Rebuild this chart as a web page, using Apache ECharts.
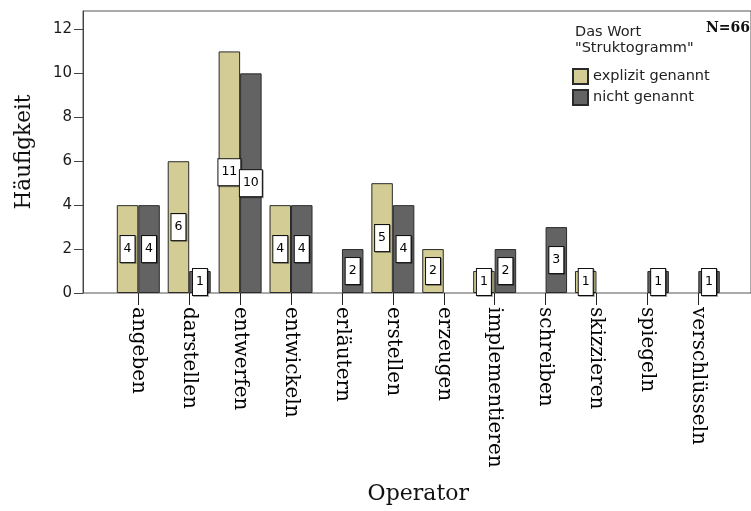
<!DOCTYPE html>
<html>
<head>
<meta charset="utf-8">
<script src="https://cdn.jsdelivr.net/npm/echarts@6/dist/echarts.min.js"></script>
<style>
  html, body { margin: 0; padding: 0; background: #fff; }
  #chart { width: 751px; height: 511px; }
</style>
</head>
<body>
<div id="chart"></div>
<script>
// Operators named in the task texts, split by whether the word "Struktogramm" appears
const operators = ['angeben', 'darstellen', 'entwerfen', 'entwickeln', 'erläutern', 'erstellen',
  'erzeugen', 'implementieren', 'schreiben', 'skizzieren', 'spiegeln', 'verschlüsseln'];
const explizitGenannt = [4, 6, 11, 4, 0, 5, 2, 1, 0, 1, 0, 0];
const nichtGenannt = [4, 1, 10, 4, 2, 4, 0, 2, 3, 0, 1, 1];
const seriesNames = ['explizit genannt', 'nicht genannt'];
const yTicks = [0, 2, 4, 6, 8, 10, 12];
const yMax = 12.84;
const totalN = 66;

const colors = ['#d3cd95', '#636363'];

// zero counts get no bar label
function toData(values) {
  return values.map(v => (v === 0 ? { value: 0, label: { show: false }, itemStyle: { borderWidth: 0 } } : v));
}

const valueLabel = {
  show: true,
  position: 'inside',
  color: '#000',
  fontFamily: 'DejaVu Sans',
  fontSize: 12.5,
  lineHeight: 12,
  backgroundColor: '#fff',
  borderColor: '#111',
  borderWidth: 1,
  padding: [7, 3, 7, 3],
  shadowColor: 'rgba(0,0,0,0.35)',
  shadowOffsetX: 1,
  shadowOffsetY: 1,
  shadowBlur: 0
};

const chart = echarts.init(document.getElementById('chart'), null, { renderer: 'canvas' });

chart.setOption({
  animation: false,
  backgroundColor: '#fff',
  title: [
    {
      text: 'Das Wort\n"Struktogramm"',
      left: 575, top: 24, padding: 0,
      textStyle: { fontFamily: 'DejaVu Sans', fontSize: 14.5, fontWeight: 'normal', color: '#222', lineHeight: 16 }
    },
    {
      text: 'N=' + totalN,
      left: 706, top: 21, padding: 0,
      textStyle: { fontFamily: 'DejaVu Serif', fontSize: 14, fontWeight: 'bold', color: '#111' }
    }
  ],
  legend: {
    data: seriesNames,
    orient: 'vertical',
    left: 572, top: 68, padding: 0,
    itemWidth: 15, itemHeight: 15, itemGap: 4,
    icon: 'rect',
    selectedMode: false,
    textStyle: { fontFamily: 'DejaVu Sans', fontSize: 14.5, color: '#222' }
  },
  grid: [
    { left: 112.85, top: 11, width: 610.9, bottom: 218 },
    { left: 83, top: 11, right: -40, bottom: 218, show: true, borderColor: '#555', borderWidth: 1, backgroundColor: 'transparent' }
  ],
  xAxis: [
    {
      gridIndex: 0,
      type: 'category',
      data: operators,
      axisLine: { show: false },
      axisTick: { show: true, alignWithLabel: true, length: 12, lineStyle: { color: '#222' } },
      axisLabel: {
        rotate: -90, margin: 14, interval: 0,
        fontFamily: 'DejaVu Serif', fontSize: 20, color: '#000',
        padding: [8, 0, 0, 0]
      },
      name: 'Operator',
      nameLocation: 'middle',
      nameGap: 190,
      nameTextStyle: { fontFamily: 'DejaVu Serif', fontSize: 22, color: '#111' }
    },
    { gridIndex: 1, type: 'category', data: [''], show: false }
  ],
  yAxis: [
    { gridIndex: 0, type: 'value', min: 0, max: yMax, show: false },
    {
      gridIndex: 1,
      type: 'value',
      min: 0, max: yMax, interval: 2,
      axisLine: { show: true, lineStyle: { color: '#444' } },
      axisTick: { show: true, length: 9, customValues: yTicks, lineStyle: { color: '#444' } },
      axisLabel: { customValues: yTicks, margin: 11, fontFamily: 'DejaVu Sans', fontSize: 15, color: '#1a1a1a' },
      splitLine: { show: false },
      name: 'Häufigkeit',
      nameLocation: 'middle',
      nameRotate: 90,
      nameGap: 48,
      nameTextStyle: { fontFamily: 'DejaVu Serif', fontSize: 21.5, color: '#111' }
    }
  ],
  series: [
    {
      name: seriesNames[0],
      type: 'bar',
      xAxisIndex: 0, yAxisIndex: 0,
      data: toData(explizitGenannt),
      barWidth: 21.5,
      barGap: '0%',
      itemStyle: { color: colors[0], borderColor: '#2a2a2a', borderWidth: 1 },
      label: valueLabel
    },
    {
      name: seriesNames[1],
      type: 'bar',
      xAxisIndex: 0, yAxisIndex: 0,
      data: toData(nichtGenannt),
      barWidth: 21.5,
      barGap: '0%',
      itemStyle: { color: colors[1], borderColor: '#2a2a2a', borderWidth: 1 },
      label: valueLabel
    }
  ]
});
</script>
</body>
</html>
